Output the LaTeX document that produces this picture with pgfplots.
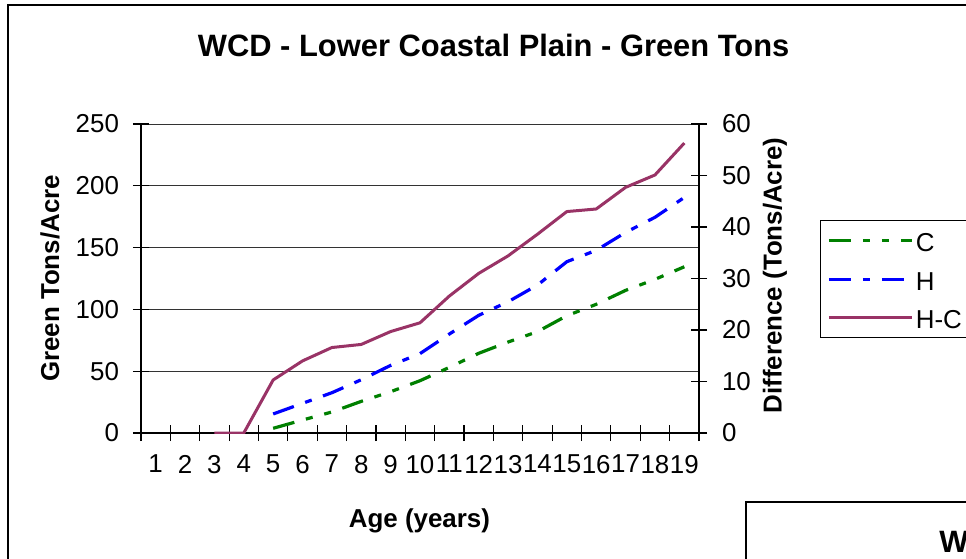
\documentclass[border=0pt]{standalone}
\usepackage{fontspec}
\setmainfont{Liberation Sans}
\usepackage{pgfplots}
\pgfplotsset{compat=1.18}

\definecolor{cgreen}{RGB}{0,128,0}
\definecolor{hblue}{RGB}{0,0,255}
\definecolor{hcplum}{RGB}{153,51,102}

\tikzset{
  cline/.style={cgreen, line width=1.6bp, dash pattern=on 11bp off 6bp on 3.5bp off 6bp on 3.5bp off 6bp},
  hline/.style={hblue, line width=1.6bp, dash pattern=on 11bp off 6bp on 3.5bp off 6bp},
  hcline/.style={hcplum, line width=1.5bp, line join=round},
}

\pgfplotsset{
  wcd/.style={
    scale only axis, width=279bp, height=154.5bp,
    at={(70.5bp,-216.5bp)}, anchor=south west,
    xmin=0.5, xmax=19.5,
    tick align=center, major tick length=8bp,
    tick style={black, line width=0.6bp},
    axis line style={black, line width=0.6bp},
    ticklabel style={font=\fontsize{13}{15}\selectfont},
    /pgf/number format/assume math mode=true,
    label style={font=\bfseries\fontsize{13}{15}\selectfont},
  }
}

\begin{document}
\begin{tikzpicture}
\path[use as bounding box, clip] (0,0) rectangle (483bp,-279.5bp);
\fill[white] (0,0) rectangle (483bp,-279.5bp);

\begin{scope}[x=0.5bp, y=-0.5bp]
  \draw[black, line width=1bp] (8,600) -- (8,5) -- (1000,5);
  \draw[black, line width=0.9bp] (746,600) -- (746,502) -- (1000,502);
  \node[anchor=west, font=\bfseries\fontsize{15.5}{18}\selectfont, inner sep=0pt] at (939,542) {W};
\end{scope}

% left axis: C and H
\begin{axis}[wcd,
  axis y line*=left, axis x line*=bottom,
  ymin=0, ymax=250, ytick={0,50,...,250},
  ymajorgrids, major grid style={black!80, line width=0.5bp},
  xtick={0.5,1.5,...,19.5}, x tick label as interval,
  xticklabels={1,2,3,4,5,6,7,8,9,10,11,12,13,14,15,16,17,18,19},
  yticklabel style={xshift=-3.5bp},
  xticklabel style={yshift=-3.5bp},
  ylabel={Green Tons/Acre},
  ylabel style={at={(axis description cs:-0.163,0.5)}, anchor=center},
  xlabel={Age (years)},
  xlabel style={at={(axis description cs:0.499,-0.285)}, anchor=center},
  title={WCD - Lower Coastal Plain - Green Tons},
  title style={at={(axis description cs:0.632,1.217)}, anchor=center,
    font=\bfseries\fontsize{15.5}{18}\selectfont},
]
\addplot[cline] coordinates {
  (5,3.8) (6,10.5) (7,17.0) (8,25.6) (9,33.4) (10,42.3) (11,53.1) (12,64.5)
  (13,73.6) (14,82.0) (15,94.9) (16,104.1) (17,115.4) (18,124.3) (19,134.5)
};
\addplot[hline] coordinates {
  (5,15.4) (6,24.0) (7,32.6) (8,43.1) (9,54.7) (10,64.2) (11,80.1) (12,95.2)
  (13,106.2) (14,119.7) (15,138.6) (16,147.8) (17,162.3) (18,174.5) (19,190.6)
};
\end{axis}

% right axis: difference
\begin{axis}[wcd,
  axis y line*=right, axis x line=none,
  ymin=0, ymax=60, ytick={0,10,...,60},
  yticklabel style={xshift=4bp},
  ylabel={Difference (Tons/Acre)},
  ylabel style={at={(axis description cs:1.136,0.51)}, anchor=center, rotate=0},
  legend image code/.code={\draw[#1] (0bp,0bp) -- (41.5bp,0bp);},
  legend style={at={(axis description cs:1.217,0.689)}, anchor=north west,
    draw=black, line width=0.6bp, fill=white,
    font=\fontsize{13}{15}\selectfont,
    inner xsep=3.25bp, inner ysep=4bp, row sep=7.25bp,
    nodes={inner xsep=1.25bp, inner ysep=0pt, text height=11.5bp, text depth=0.5bp},
    cells={anchor=west}},
]
\addlegendimage{cline}
\addlegendentry{C}
\addlegendimage{hline}
\addlegendentry{H}
\addplot[hcline] coordinates {
  (3,0) (4,0) (5,10.3) (6,14.0) (7,16.6) (8,17.2) (9,19.7) (10,21.4) (11,26.6)
  (12,31.0) (13,34.4) (14,38.6) (15,43.0) (16,43.5) (17,47.7) (18,50.1) (19,56.3)
};
\addlegendentry{H-C}
\end{axis}
\end{tikzpicture}
\end{document}
